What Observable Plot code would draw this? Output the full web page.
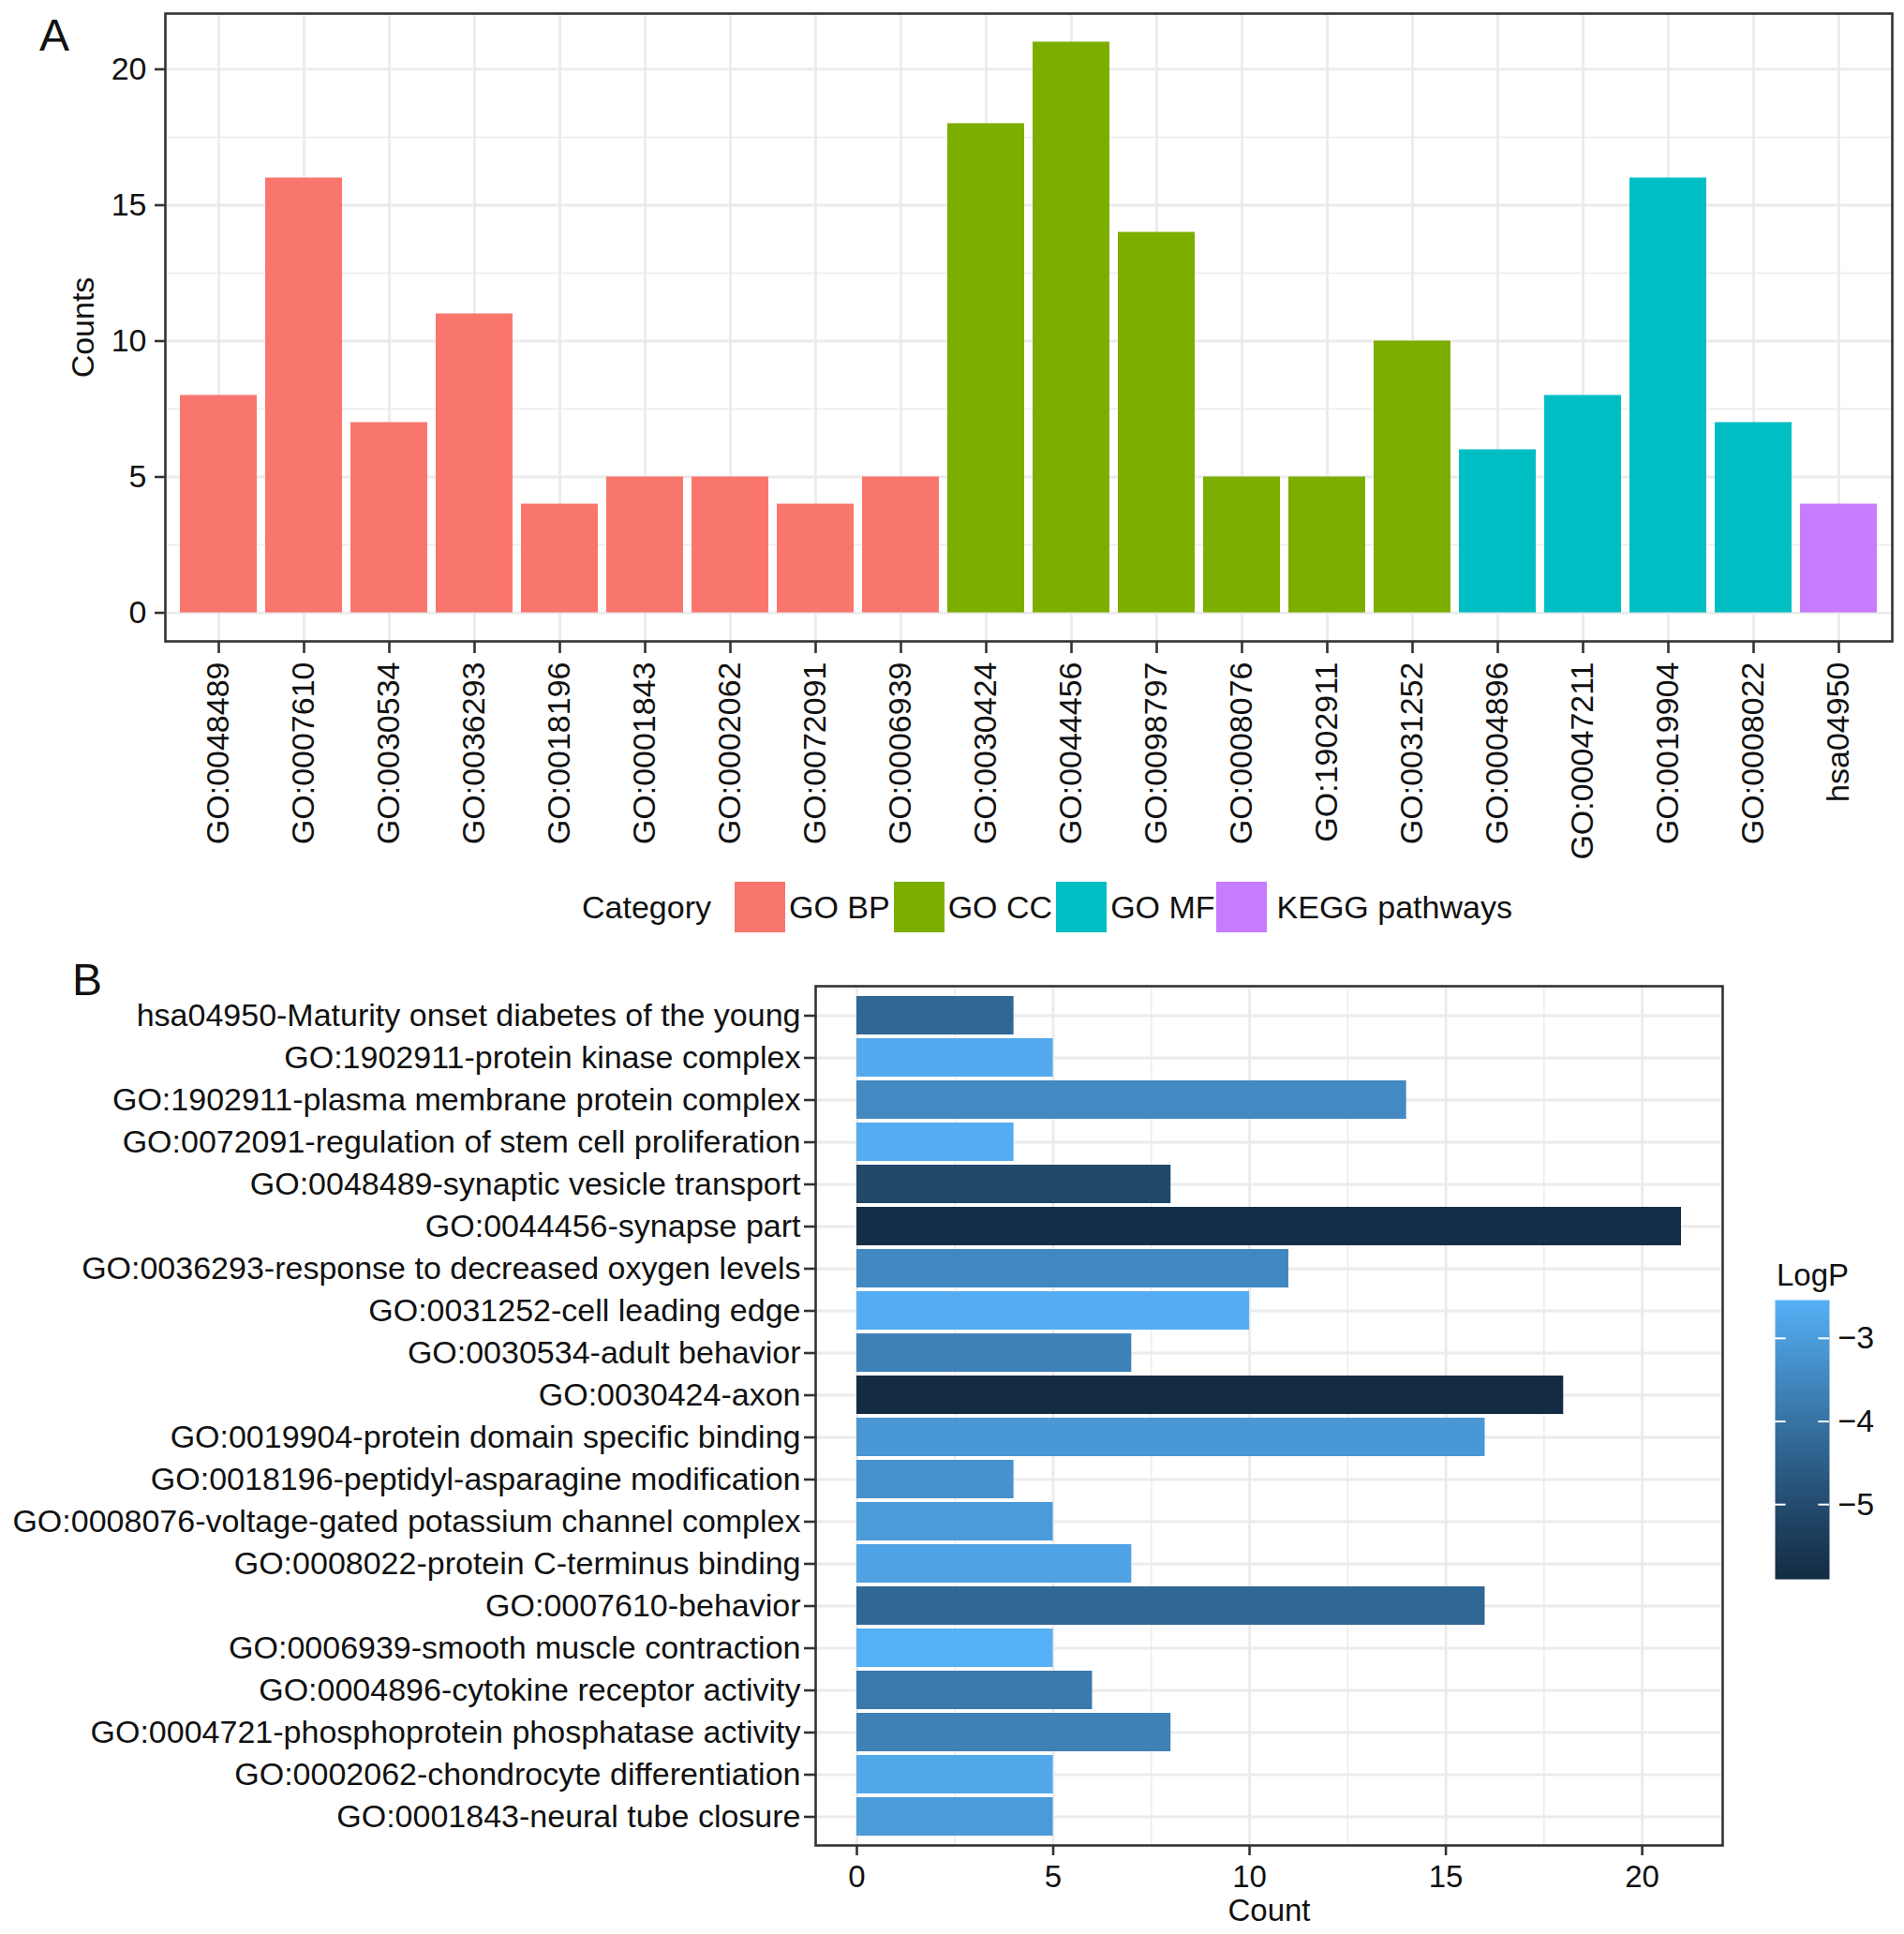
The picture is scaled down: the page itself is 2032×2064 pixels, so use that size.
<!DOCTYPE html>
<html>
<head>
<meta charset="utf-8">
<script src="https://cdn.jsdelivr.net/npm/d3@7"></script>
<script src="https://cdn.jsdelivr.net/npm/@observablehq/plot@0.6"></script>
<style>
  body { margin: 0; background: #fff; }
  #root { position: relative; width: 2032px; height: 2064px; background: #fff; overflow: hidden;
          font-family: "Liberation Sans", Arial, Helvetica, sans-serif; color: #111; }
  .abs { position: absolute; }
  .panel-letter { font-size: 48px; line-height: 1; }
  #legendA { position: absolute; left: 621px; top: 941px; height: 54px; display: flex; align-items: center; font-size: 34px; line-height: 1; white-space: nowrap; }
  #legendA .sw { width: 54px; height: 54px; flex: none; }
  #legendA .lab { margin-left: 4px; margin-right: 4px; }
  #legendA .title { margin-right: 25px; }
</style>
</head>
<body>
<div id="root"></div>
<script>
// ---------------- Data: panel A ----------------
const termsA = ["GO:0048489","GO:0007610","GO:0030534","GO:0036293","GO:0018196","GO:0001843","GO:0002062","GO:0072091","GO:0006939",
                "GO:0030424","GO:0044456","GO:0098797","GO:0008076","GO:1902911","GO:0031252",
                "GO:0004896","GO:00047211","GO:0019904","GO:0008022","hsa04950"];
const countsA = [8,16,7,11,4,5,5,4,5, 18,21,14,5,5,10, 6,8,16,7, 4];
const categoriesA = ["GO BP","GO BP","GO BP","GO BP","GO BP","GO BP","GO BP","GO BP","GO BP",
                     "GO CC","GO CC","GO CC","GO CC","GO CC","GO CC",
                     "GO MF","GO MF","GO MF","GO MF","KEGG pathways"];
const categoryNames = ["GO BP","GO CC","GO MF","KEGG pathways"];
const categoryColors = ["#F8766D","#7CAE00","#00BFC4","#C77CFF"];
const yTicksA = [0,5,10,15,20];
const yMinorA = [2.5,7.5,12.5,17.5];

// ---------------- Data: panel B (top to bottom) ----------------
const termsB = [
  "hsa04950-Maturity onset diabetes of the young",
  "GO:1902911-protein kinase complex",
  "GO:1902911-plasma membrane protein complex",
  "GO:0072091-regulation of stem cell proliferation",
  "GO:0048489-synaptic vesicle transport",
  "GO:0044456-synapse part",
  "GO:0036293-response to decreased oxygen levels",
  "GO:0031252-cell leading edge",
  "GO:0030534-adult behavior",
  "GO:0030424-axon",
  "GO:0019904-protein domain specific binding",
  "GO:0018196-peptidyl-asparagine modification",
  "GO:0008076-voltage-gated potassium channel complex",
  "GO:0008022-protein C-terminus binding",
  "GO:0007610-behavior",
  "GO:0006939-smooth muscle contraction",
  "GO:0004896-cytokine receptor activity",
  "GO:0004721-phosphoprotein phosphatase activity",
  "GO:0002062-chondrocyte differentiation",
  "GO:0001843-neural tube closure"
];
const countsB = [4,5,14,4,8,21,11,10,7,18,16,4,5,7,16,5,6,8,5,5];
const logPB = [-4.3,-2.7,-3.45,-2.65,-5.1,-5.82,-3.5,-2.63,-3.65,-5.88,-3.15,-3.25,-3.05,-2.88,-4.3,-2.56,-3.85,-3.65,-2.75,-3.05];
const xTicksB = [0,5,10,15,20];
const xMinorB = [2.5,7.5,12.5,17.5];
const logPTicks = [-3,-4,-5];
const logPDomain = [-5.9,-2.54];
const logPColors = ["#132B43","#56B1F7"];

// ---------------- Build ----------------
const FONT = "'Liberation Sans', Arial, Helvetica, sans-serif";
const GRID = "#ebebeb";
const DARK = "#333333";
const TEXT = "#111111";
const root = document.getElementById("root");

const dataA = termsA.map((t, i) => ({term: t, count: countsA[i], category: categoriesA[i]}));
const dataB = termsB.map((t, i) => ({term: t, count: countsB[i], logP: logPB[i]}));

// Panel A
const plotA = Plot.plot({
  width: 2032, height: 940,
  marginLeft: 176, marginRight: 13, marginTop: 14, marginBottom: 256,
  style: {fontFamily: FONT, fontSize: "34px", background: "transparent", color: TEXT, overflow: "visible"},
  x: {type: "band", domain: termsA, paddingInner: 0.1, paddingOuter: 0.15, axis: null},
  y: {domain: [-1.05, 22.05], axis: null},
  color: {domain: categoryNames, range: categoryColors},
  marks: [
    Plot.gridY(yMinorA, {stroke: GRID, strokeOpacity: 1, strokeWidth: 1.4}),
    Plot.gridY(yTicksA, {stroke: GRID, strokeOpacity: 1, strokeWidth: 2.8}),
    Plot.gridX(termsA, {stroke: GRID, strokeOpacity: 1, strokeWidth: 2.8}),
    Plot.barY(dataA, {x: "term", y: "count", fill: "category"}),
    Plot.frame({stroke: DARK, strokeWidth: 2.6}),
    Plot.axisY(yTicksA, {tickSize: 11, tickPadding: 9, stroke: DARK, strokeWidth: 2.6, fill: TEXT, fontSize: 34,
      label: "Counts", labelAnchor: "center", labelArrow: "none", labelOffset: 101}),
    Plot.axisX({tickSize: 13, tickPadding: 9, tickRotate: -90, stroke: DARK, strokeWidth: 2.6, fill: TEXT, fontSize: 34, label: null})
  ]
});
plotA.style.position = "absolute";
plotA.style.left = "0px";
plotA.style.top = "0px";
root.appendChild(plotA);

// Panel A legend
const legendA = document.createElement("div");
legendA.id = "legendA";
const lt = document.createElement("span");
lt.className = "title";
lt.textContent = "Category";
legendA.appendChild(lt);
categoryNames.forEach((name, i) => {
  const sw = document.createElement("span");
  sw.className = "sw";
  sw.style.background = categoryColors[i];
  legendA.appendChild(sw);
  const lb = document.createElement("span");
  lb.className = "lab";
  lb.textContent = name;
  if (i === categoryNames.length - 1) lb.style.marginLeft = "11px";
  if (i === categoryNames.length - 2) lb.style.marginRight = "1px";
  legendA.appendChild(lb);
});
root.appendChild(legendA);

// Panel letters
function letter(txt, left, top) {
  const d = document.createElement("div");
  d.className = "abs panel-letter";
  d.style.left = left + "px";
  d.style.top = top + "px";
  d.textContent = txt;
  root.appendChild(d);
}
letter("A", 42, 14);
letter("B", 77, 1022);

// Panel B
const colorB = {type: "linear", domain: logPDomain, range: logPColors, interpolate: "lab"};
const plotB = Plot.plot({
  width: 2032, height: 1064,
  marginLeft: 870, marginRight: 194, marginTop: 52, marginBottom: 95,
  style: {fontFamily: FONT, fontSize: "34px", background: "transparent", color: TEXT, overflow: "visible"},
  x: {domain: [-1.05, 22.05], axis: null},
  y: {type: "band", domain: termsB, paddingInner: 0.1, paddingOuter: 0.12, axis: null},
  color: colorB,
  marks: [
    Plot.gridX(xMinorB, {stroke: GRID, strokeOpacity: 1, strokeWidth: 1.4}),
    Plot.gridX(xTicksB, {stroke: GRID, strokeOpacity: 1, strokeWidth: 2.8}),
    Plot.gridY(termsB, {stroke: GRID, strokeOpacity: 1, strokeWidth: 2.8}),
    Plot.barX(dataB, {y: "term", x: "count", fill: "logP"}),
    Plot.frame({stroke: DARK, strokeWidth: 2.6}),
    Plot.axisY({tickSize: 12, tickPadding: 4, stroke: DARK, strokeWidth: 2.6, fill: TEXT, fontSize: 34, label: null}),
    Plot.axisX(xTicksB, {tickSize: 11, tickPadding: 10, stroke: DARK, strokeWidth: 2.6, fill: TEXT, fontSize: 33,
      label: "Count", labelAnchor: "center", labelArrow: "none", labelOffset: 80})
  ]
});
plotB.style.position = "absolute";
plotB.style.left = "0px";
plotB.style.top = "1000px";
root.appendChild(plotB);

// Colour bar legend for panel B
const lgTitle = document.createElement("div");
lgTitle.className = "abs";
lgTitle.style.left = "1896px";
lgTitle.style.top = "1344px";
lgTitle.style.fontSize = "33px";
lgTitle.style.lineHeight = "1";
lgTitle.textContent = "LogP";
root.appendChild(lgTitle);

const legendB = Plot.plot({
  width: 124, height: 298,
  marginTop: 0, marginBottom: 0, marginLeft: 0, marginRight: 66,
  style: {fontFamily: FONT, fontSize: "33px", background: "transparent", color: TEXT, overflow: "visible"},
  x: {domain: [0, 1], axis: null},
  y: {domain: logPDomain, axis: null},
  color: colorB,
  marks: [
    Plot.raster({x1: 0, x2: 1, y1: logPDomain[0], y2: logPDomain[1], fill: (x, y) => y, width: 1, height: 298}),
    Plot.ruleY(logPTicks, {x1: 0, x2: 0.2, stroke: "white", strokeWidth: 2}),
    Plot.ruleY(logPTicks, {x1: 0.8, x2: 1, stroke: "white", strokeWidth: 2}),
    Plot.axisY(logPTicks, {anchor: "right", tickSize: 0, tickPadding: 9, tickFormat: d3.format("d"), fill: TEXT, fontSize: 34, label: null})
  ]
});
legendB.style.position = "absolute";
legendB.style.left = "1894px";
legendB.style.top = "1387px";
root.appendChild(legendB);
</script>
</body>
</html>
